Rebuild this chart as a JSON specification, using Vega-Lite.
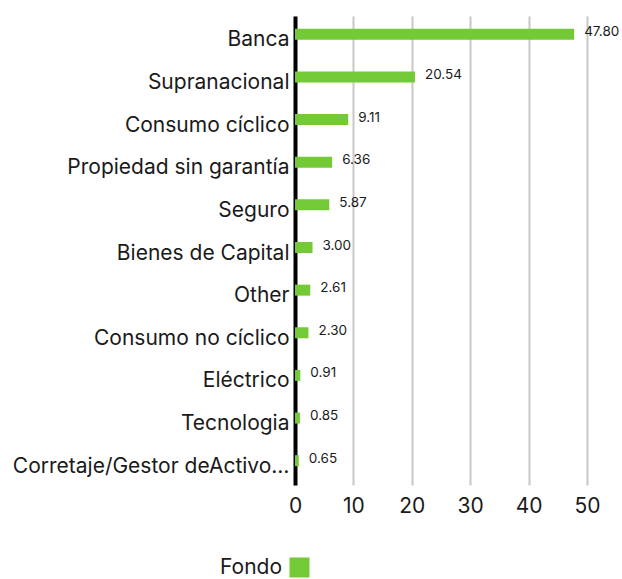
{
  "$schema": "https://vega.github.io/schema/vega-lite/v6.json",
  "autosize": "none",
  "width": 292,
  "height": 469,
  "padding": {"left": 295, "top": 16, "right": 35, "bottom": 94},
  "background": "white",
  "config": {
    "font": "Inter",
    "view": {"stroke": null}
  },
  "data": {
    "values": [
      {"sector": "Banca", "value": 47.80, "series": "Fondo"},
      {"sector": "Supranacional", "value": 20.54, "series": "Fondo"},
      {"sector": "Consumo cíclico", "value": 9.11, "series": "Fondo"},
      {"sector": "Propiedad sin garantía", "value": 6.36, "series": "Fondo"},
      {"sector": "Seguro", "value": 5.87, "series": "Fondo"},
      {"sector": "Bienes de Capital", "value": 3.00, "series": "Fondo"},
      {"sector": "Other", "value": 2.61, "series": "Fondo"},
      {"sector": "Consumo no cíclico", "value": 2.30, "series": "Fondo"},
      {"sector": "Eléctrico", "value": 0.91, "series": "Fondo"},
      {"sector": "Tecnologia", "value": 0.85, "series": "Fondo"},
      {"sector": "Corretaje/Gestor deActivo…", "value": 0.65, "series": "Fondo"}
    ]
  },
  "encoding": {
    "y": {
      "field": "sector",
      "type": "nominal",
      "sort": null,
      "title": null,
      "axis": {
        "domain": true,
        "domainColor": "#000000",
        "domainWidth": 4,
        "ticks": false,
        "labelFontSize": 21,
        "labelColor": "#1a1a1a",
        "labelPadding": 6,
        "labelOffset": 3,
        "labelLimit": 320,
        "grid": false
      }
    },
    "x": {
      "field": "value",
      "type": "quantitative",
      "scale": {"domain": [0, 50]},
      "title": null,
      "axis": {
        "values": [0, 10, 20, 30, 40, 50],
        "domain": false,
        "ticks": false,
        "grid": true,
        "gridColor": "#c8c8c8",
        "gridWidth": 2,
        "labelFontSize": 21,
        "labelColor": "#1a1a1a",
        "labelPadding": 10,
        "labelFlush": false
      }
    }
  },
  "layer": [
    {
      "mark": {"type": "bar", "size": 11, "yOffset": -3},
      "encoding": {
        "color": {
          "field": "series",
          "type": "nominal",
          "scale": {"range": ["#74c936"]},
          "legend": {
            "title": null,
            "orient": "none",
            "legendX": -6,
            "legendY": 541,
            "symbolType": "square",
            "symbolSize": 400,
            "symbolStrokeWidth": 0,
            "labelFontSize": 21,
            "labelColor": "#1a1a1a",
            "labelAlign": "right",
            "labelOffset": -28
          }
        }
      }
    },
    {
      "mark": {"type": "text", "align": "left", "dx": 10, "dy": -5, "fontSize": 13.5, "color": "#1a1a1a"},
      "encoding": {
        "text": {"field": "value", "type": "quantitative", "format": ".2f"}
      }
    }
  ]
}
